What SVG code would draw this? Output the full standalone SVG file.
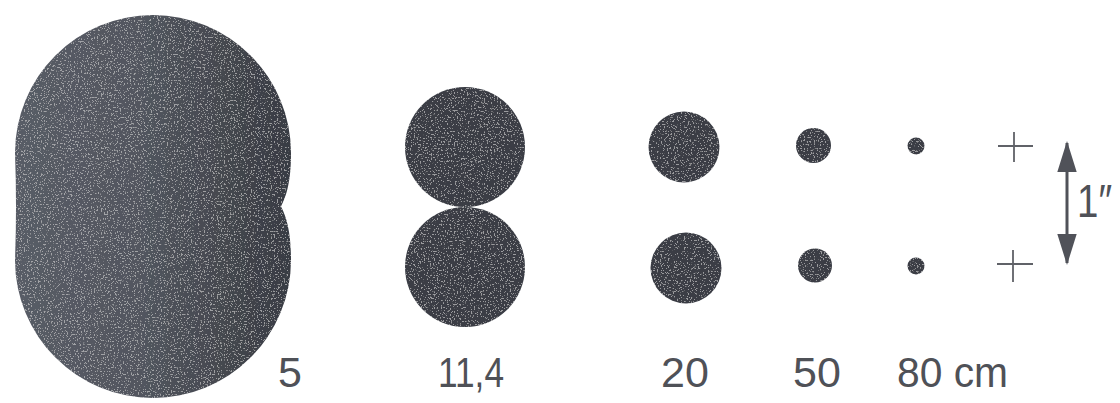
<svg xmlns="http://www.w3.org/2000/svg" width="1120" height="403" viewBox="0 0 1120 403">
  <defs>
    <linearGradient id="blobGrad" x1="0" y1="0" x2="1" y2="0">
      <stop offset="0" stop-color="#585c66"/>
      <stop offset="0.45" stop-color="#52565f"/>
      <stop offset="0.75" stop-color="#45484f"/>
      <stop offset="1" stop-color="#383b43"/>
    </linearGradient>
    <filter id="speckle" x="0" y="0" width="100%" height="100%">
      <feTurbulence type="fractalNoise" baseFrequency="0.7" numOctaves="2" seed="3" result="noise"/>
      <feColorMatrix in="noise" type="matrix" values="0 0 0 0 1  0 0 0 0 1  0 0 0 0 1  0 0 0 -14 5.6" result="specks"/>
      <feComposite in="specks" in2="SourceGraphic" operator="in" result="clipped"/>
      <feComponentTransfer in="clipped" result="soft"><feFuncA type="linear" slope="0.3"/></feComponentTransfer>
      <feMerge><feMergeNode in="SourceGraphic"/><feMergeNode in="soft"/></feMerge>
    </filter>
    <marker id="head" viewBox="0 0 16 10" refX="15" refY="5" markerWidth="10.4" markerHeight="6.5" markerUnits="strokeWidth" orient="auto-start-reverse">
      <path d="M0,0 L16,5 L0,10 Z" fill="#505259"/>
    </marker>
  </defs>
  <style>
    .dot { fill: #3a3d45; filter: url(#speckle); }
    .lbl { font-family: "Liberation Sans", "DejaVu Sans", sans-serif; font-size: 43px; fill: #4f5157; }
    .plus { stroke: #606268; stroke-width: 1.8; fill: none; }
  </style>
  <rect width="1120" height="403" fill="#ffffff"/>

  <g id="blob-5cm">
    <path d="M15,153 A138,138 0 0 1 291,153 C291,180 287,195 281,206.5 C287,218 291,233 291,260 A138,138 0 0 1 15,260 Q17,206.5 15,153 Z" fill="url(#blobGrad)" filter="url(#speckle)"/>
    <text class="lbl" x="278" y="387">5</text>
  </g>

  <g id="dots-11-4cm">
    <circle class="dot" cx="465" cy="147" r="60"/>
    <circle class="dot" cx="465" cy="267" r="60"/>
    <text class="lbl" x="438" y="387" textLength="66" lengthAdjust="spacingAndGlyphs">11,4</text>
  </g>

  <g id="dots-20cm">
    <circle class="dot" cx="684" cy="147" r="35.5"/>
    <circle class="dot" cx="686" cy="268" r="35.5"/>
    <text class="lbl" x="661" y="387">20</text>
  </g>

  <g id="dots-50cm">
    <circle class="dot" cx="813.5" cy="145.5" r="17.5"/>
    <circle class="dot" cx="815" cy="265.5" r="17"/>
    <text class="lbl" x="793" y="387">50</text>
  </g>

  <g id="dots-80cm">
    <circle class="dot" cx="916" cy="146" r="8.5"/>
    <circle class="dot" cx="916" cy="266" r="8.5"/>
    <text class="lbl" x="897" y="387" textLength="111" lengthAdjust="spacingAndGlyphs">80 cm</text>
  </g>

  <g id="plus-marks">
    <path class="plus" d="M998,146 H1033 M1014,132 V162"/>
    <path class="plus" d="M997,264 H1033 M1013,250 V282"/>
  </g>

  <g id="connectors">
    <line x1="1067" y1="143" x2="1067" y2="263" stroke="#505259" stroke-width="3" marker-start="url(#head)" marker-end="url(#head)"/>
  </g>

  <g id="label-1inch">
    <text class="lbl" x="1077" y="217" textLength="35" lengthAdjust="spacingAndGlyphs" style="font-size:46px">1″</text>
  </g>
</svg>
